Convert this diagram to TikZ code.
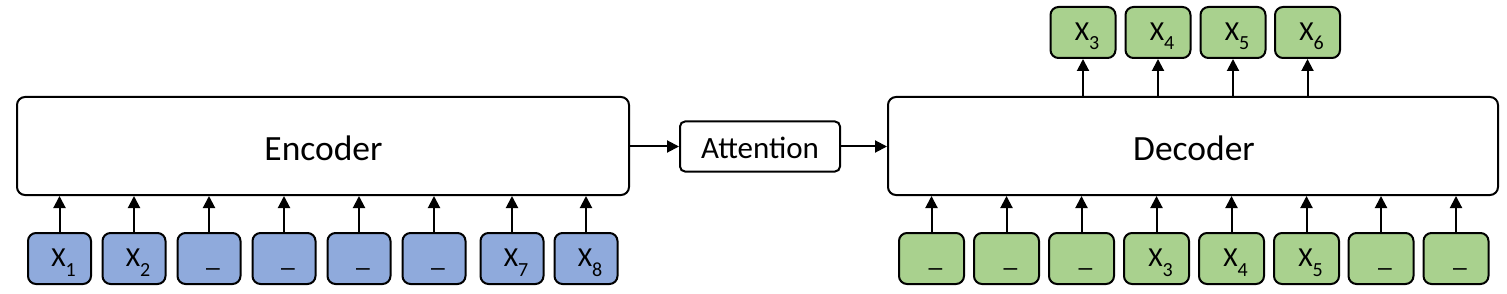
\documentclass[tikz,border=0pt]{standalone}
\usepackage{fontspec}
\setmainfont{Carlito}
\usetikzlibrary{arrows.meta}
\definecolor{bluefill}{HTML}{8FAADC}
\definecolor{greenfill}{HTML}{A9D18E}
\newcommand{\xs}[1]{X\raisebox{-9.5pt}{\fontsize{20}{20}\selectfont #1}}
\begin{document}
\begin{tikzpicture}[x=1pt,y=1pt,
  bigbox/.style={draw=black,line width=2pt,rounded corners=8pt,fill=white,inner sep=0pt},
  tok/.style={draw=black,line width=2pt,rounded corners=8pt,minimum height=51pt,inner sep=0pt},
  btok/.style={tok,fill=bluefill,minimum width=63pt},
  gtok/.style={tok,fill=greenfill,minimum width=65pt},
  lbl/.style={font=\fontsize{27.5}{31}\selectfont,inner sep=0pt,anchor=base},
  arr/.style={line width=2pt,-{Triangle[length=12pt,width=12pt]}}
]
\useasboundingbox (0,0) rectangle (1507,-294);
% big boxes
\node[bigbox,minimum width=612pt,minimum height=98pt] (enc) at (323,-146) {};
\node[font=\fontsize{35.5}{40}\selectfont,inner sep=0pt] (enct) at (323.5,-148) {Encoder};
\node[bigbox,minimum width=610pt,minimum height=98pt] (dec) at (1193,-146) {};
\node[font=\fontsize{35.5}{40}\selectfont,inner sep=0pt] (dect) at (1194,-148) {Decoder};
\node[bigbox,rounded corners=5pt,minimum width=160pt,minimum height=50pt] (att) at (760,-146.5) {};
\node[font=\fontsize{31}{35}\selectfont,inner sep=0pt] (attt) at (760,-148) {Attention};
% encoder input tokens
\foreach \i/\x/\t in {1/59.5/\xs{1},2/134/\xs{2},3/209/\_,4/284/\_,5/359/\_,6/434/\_,7/512/\xs{7},8/586/\xs{8}}{
  \node[btok] (e\i) at (\x,-258.5) {};
  \node[lbl] (et\i) at ([xshift=4pt,yshift=-8pt]e\i.center) {\t};
  \draw[arr] (e\i.north) -- (e\i.north |- enc.south);
}
% decoder input tokens
\foreach \i/\x/\t in {1/931.5/\_,2/1006.5/\_,3/1081.5/\_,4/1156.5/\xs{3},5/1231.5/\xs{4},6/1306.5/\xs{5},7/1381/\_,8/1456/\_}{
  \node[gtok] (d\i) at (\x,-258.5) {};
  \node[lbl] (dt\i) at ([xshift=4pt,yshift=-8pt]d\i.center) {\t};
  \draw[arr] (d\i.north) -- (d\i.north |- dec.south);
}
% decoder outputs
\foreach \i/\x/\t in {1/1083/\xs{3},2/1158/\xs{4},3/1233/\xs{5},4/1307.5/\xs{6}}{
  \node[gtok] (o\i) at (\x,-32.5) {};
  \node[lbl] (ot\i) at ([xshift=4pt,yshift=-8pt]o\i.center) {\t};
  \draw[arr] (o\i.south |- dec.north) -- (o\i.south);
}
\draw[arr] (enc.east |- att.west) -- (att.west);
\draw[arr] (att.east) -- (att.east -| dec.west);
\end{tikzpicture}
\end{document}
